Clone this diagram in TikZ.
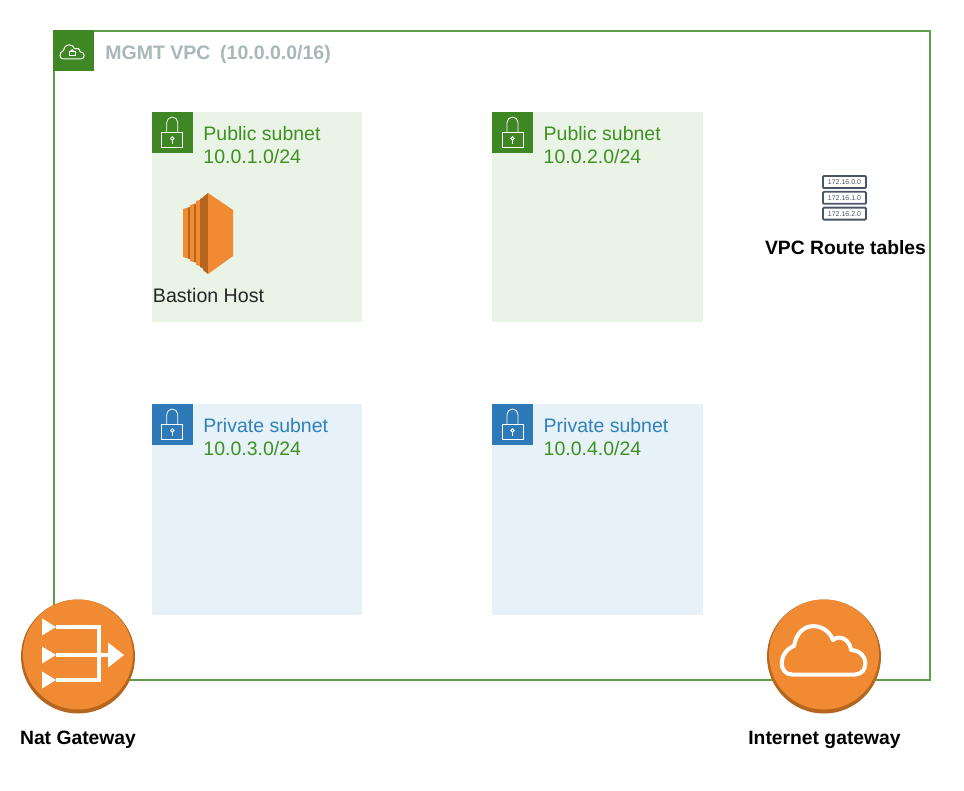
\documentclass[tikz,border=0pt]{standalone}
\usepackage{fontspec}
\setmainfont{Liberation Sans}
\usetikzlibrary{positioning}
\definecolor{vpcgreen}{HTML}{5F9E4A}
\definecolor{tabgreen}{HTML}{3F8624}
\definecolor{txtgreen}{HTML}{3F9022}
\definecolor{pubfill}{HTML}{E9F3E6}
\definecolor{tabblue}{HTML}{2E7AB8}
\definecolor{txtblue}{HTML}{2F80BC}
\definecolor{privfill}{HTML}{E6F2F8}
\definecolor{vpcgrey}{HTML}{AAB7B8}
\definecolor{awsorange}{HTML}{F08B33}
\definecolor{awsdark}{HTML}{B5651D}
\definecolor{tabledark}{HTML}{4A5565}
\def\cloudshape{(-32,24.5) -- (31,24.5)
    .. controls (45,24.5) and (46,1) .. (27,0)
    .. controls (26,-10) and (16,-16) .. (9,-10)
    .. controls (3,-27) and (-25,-32) .. (-30,-4)
    .. controls (-46,2) and (-46,24.5) .. (-32,24.5) -- cycle}

\begin{document}
\begin{tikzpicture}[x=1pt,y=-1pt,
    pubbox/.style={fill=pubfill,minimum width=210.5pt,minimum height=210pt,inner sep=0pt,outer sep=0pt},
    privbox/.style={fill=privfill,minimum width=210.5pt,minimum height=211pt,inner sep=0pt,outer sep=0pt},
    pubtab/.style={fill=tabgreen,minimum size=41pt,inner sep=0pt,outer sep=0pt},
    privtab/.style={fill=tabblue,minimum size=41pt,inner sep=0pt,outer sep=0pt},
    sublabel/.style={font=\fontsize{19.5}{23}\selectfont,align=left,inner sep=0pt,right=10.5pt of #1},
    gwlabel/.style={font=\fontsize{19.3}{23}\selectfont\bfseries,inner sep=0pt},
    gwcircle/.style={fill=awsorange,circle,minimum size=110pt,inner sep=0pt},
    gwshadow/.style={fill=awsdark,circle,minimum size=114pt,inner sep=0pt},
    rtrow/.style={draw=tabledark,line width=1.8pt,fill=white,rounded corners=1pt,minimum width=43pt,minimum height=12pt,inner sep=0pt,font=\fontsize{7}{8}\selectfont,text=tabledark}]
  \useasboundingbox (0,0) rectangle (964,790);
  \node[draw=vpcgreen,line width=1.6pt,minimum width=876pt,minimum height=649pt,inner sep=0pt] (vpc) at (492,355.5) {};
  \node[pubtab,anchor=north west] (vpctab) at (vpc.north west) {};
  \node[font=\fontsize{19.5}{23}\selectfont\bfseries,text=vpcgrey,inner sep=0pt,right=11pt of vpctab,yshift=-3.5pt] (vpclabel) {MGMT VPC\enspace(10.0.0.0/16)};
  % subnets
  \node[pubbox] (pubA) at (257,217) {};
  \node[pubbox] (pubB) at (597.25,217) {};
  \node[privbox] (privA) at (257,509.5) {};
  \node[privbox] (privB) at (597.25,509.5) {};
  \node[pubtab,anchor=north west] (tabA) at (pubA.north west) {};
  \node[pubtab,anchor=north west] (tabB) at (pubB.north west) {};
  \node[privtab,anchor=north west] (tabC) at (privA.north west) {};
  \node[privtab,anchor=north west] (tabD) at (privB.north west) {};
  \node[sublabel=tabA,text=txtgreen,yshift=-12.5pt] (lblA) {Public subnet\\10.0.1.0/24};
  \node[sublabel=tabB,text=txtgreen,yshift=-12.5pt] (lblB) {Public subnet\\10.0.2.0/24};
  \node[sublabel=tabC,text=txtblue,yshift=-12.5pt] (lblC) {Private subnet\\\textcolor{txtgreen}{10.0.3.0/24}};
  \node[sublabel=tabD,text=txtblue,yshift=-12.5pt] (lblD) {Private subnet\\\textcolor{txtgreen}{10.0.4.0/24}};
  % lock icons
  \foreach \t in {tabA,tabB,tabC,tabD} {
    \begin{scope}[shift={(\t.center)},draw=white,line width=0.8pt]
      \draw (-10.5,0) rectangle (10.5,15);
      \draw (-5.5,0) -- (-5.5,-10) arc (180:360:5.5) -- (5.5,0);
      \draw (0,6) circle (1.8);
      \draw (0,7.8) -- (0,11);
    \end{scope}
  }
  % vpc cloud
  \begin{scope}[shift={(vpctab.center)},shift={(-1.5,1)},scale=0.29]
    \draw[white,line width=1pt] \cloudshape;
    \draw[white,line width=0.9pt] (-11,-1) rectangle (11,14);
    \draw[white,line width=0.9pt] (-6,-1) arc (180:360:6);
  \end{scope}
  % bastion host
  \coordinate (ec2) at (208,233);
  \fill[awsorange] (ec2) ++(-25,-24) -- ++(5,-1.5) -- ++(0,51) -- ++(-5,-1.5) -- cycle;
  \fill[awsdark] (ec2) ++(-20,-25.5) -- ++(2,-0.5) -- ++(0,52) -- ++(-2,-0.5) -- cycle;
  \fill[awsorange] (ec2) ++(-18,-28) -- ++(4,-1) -- ++(0,58) -- ++(-4,-1) -- cycle;
  \fill[awsdark] (ec2) ++(-14,-29) -- ++(2,-0.5) -- ++(0,59) -- ++(-2,-0.5) -- cycle;
  \fill[awsorange] (ec2) ++(-12,-32) -- ++(4,-1) -- ++(0,66) -- ++(-4,-1) -- cycle;
  \fill[awsdark] (ec2) ++(-8,-34) -- ++(3,-1.5) -- ++(0,71) -- ++(-3,-1.5) -- cycle;
  \fill[awsdark] (ec2) ++(-5,-36) -- ++(5,-4) -- ++(0,81) -- ++(-5,-4) -- cycle;
  \fill[awsorange] (ec2) ++(0,-40) -- ++(25,17) -- ++(0,46) -- ++(-25,18) -- cycle;
  \node[font=\fontsize{19.6}{23}\selectfont,text=black!85,inner sep=0pt] (bastion) at (208.5,295) {Bastion Host};
  % route tables
  \node[rtrow] (rt0) at (844.5,182) {172.16.0.0};
  \node[rtrow] (rt1) [below=2pt of rt0] {172.16.1.0};
  \node[rtrow] (rt2) [below=2pt of rt1] {172.16.2.0};
  \node[gwlabel] (rtlabel) at (845.5,248) {VPC Route tables};
  % nat gateway
  \node[gwshadow] (natback) at (78,656.5) {};
  \node[gwcircle] (nat) at (78,654.5) {};
  \foreach \yy in {-28,0,25} {
    \fill[white] (nat.center) ++(-36,\yy-8) -- ++(14,8.5) -- ++(-14,8.5) -- cycle;
    \draw[white,line width=3.5pt] (nat.center) ++(-22,\yy+0.5) -- ++(45,0);
  }
  \draw[white,line width=3.5pt] ([shift={(21,-27.5)}]nat.center) -- ([shift={(21,25.5)}]nat.center);
  \draw[white,line width=3.5pt] ([shift={(21,0.5)}]nat.center) -- ([shift={(32,0.5)}]nat.center);
  \fill[white] (nat.center) ++(30,-12) -- ++(16,12.5) -- ++(-16,12.5) -- cycle;
  \node[gwlabel] (natlabel) at (78,739.5) {Nat Gateway};
  % internet gateway
  \node[gwshadow] (igwback) at (824,656.5) {};
  \node[gwcircle] (igw) at (824,654.5) {};
  \begin{scope}[shift={(igw.center)},shift={(0,-4.5)}]
    \draw[white,line width=4pt,line join=round] \cloudshape;
  \end{scope}
  \node[gwlabel] (igwlabel) at (824.5,739.5) {Internet gateway};
\end{tikzpicture}
\end{document}
